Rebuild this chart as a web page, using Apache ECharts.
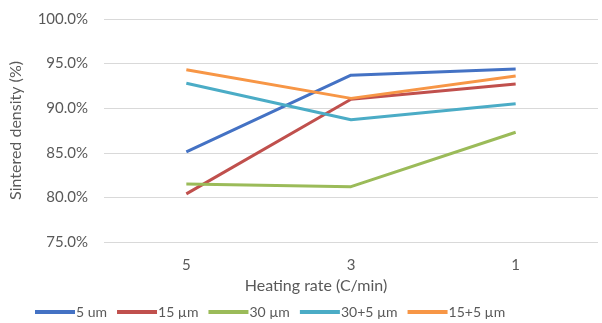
<!DOCTYPE html>
<html><head><meta charset="utf-8">
<script src="https://cdn.jsdelivr.net/npm/echarts@6/dist/echarts.min.js"></script>
<style>html,body{margin:0;padding:0;background:#fff}#c{width:602px;height:323px}</style>
</head><body><div id="c"></div>
<script>
const categories = ['5', '3', '1'];
const seriesNames = ['5 um', '15 µm', '30 µm', '30+5 µm', '15+5 µm'];
const s5 = [0.851, 0.937, 0.944];
const s15 = [0.804, 0.910, 0.927];
const s30 = [0.815, 0.812, 0.873];
const s30p5 = [0.928, 0.887, 0.905];
const s15p5 = [0.943, 0.911, 0.936];
const colors = ['#4472C4', '#C0504D', '#9BBB59', '#4BACC6', '#F79646'];
const allData = [s5, s15, s30, s30p5, s15p5];
const font = 'Lato';
const chart = echarts.init(document.getElementById('c'));
chart.setOption({
  animation: false,
  textStyle: {fontFamily: font},
  grid: {left: 102, right: 4, top: 19, bottom: 81},
  legend: {
    bottom: -1, left: 30, itemWidth: 40, itemHeight: 4, itemGap: 10,
    icon: 'rect',
    textStyle: {color: '#595959', fontSize: 14, fontFamily: font, padding: [0,0,0,-4]},
    data: seriesNames
  },
  xAxis: {
    type: 'category', data: categories,
    name: 'Heating rate (C/min)', nameLocation: 'middle', nameGap: 34,
    nameTextStyle: {color: '#595959', fontSize: 16, padding: [0, 70, 0, 0]},
    axisLine: {show: false}, axisTick: {show: false},
    axisLabel: {color: '#595959', fontSize: 15, margin: 16}
  },
  yAxis: {
    type: 'value', min: 0.75, max: 1.0, interval: 0.05,
    name: 'Sintered density (%)', nameLocation: 'middle', nameGap: 80,
    nameTextStyle: {color: '#595959', fontSize: 16},
    axisLabel: {color: '#595959', fontSize: 15, margin: 16,
      formatter: v => (v * 100).toFixed(1) + '%'},
    splitLine: {lineStyle: {color: '#D9D9D9', width: 1}}
  },
  series: allData.map((d, i) => ({
    name: seriesNames[i], type: 'line', data: d, symbol: 'none',
    lineStyle: {width: 3, color: colors[i]}, itemStyle: {color: colors[i]}
  }))
});
</script></body></html>
